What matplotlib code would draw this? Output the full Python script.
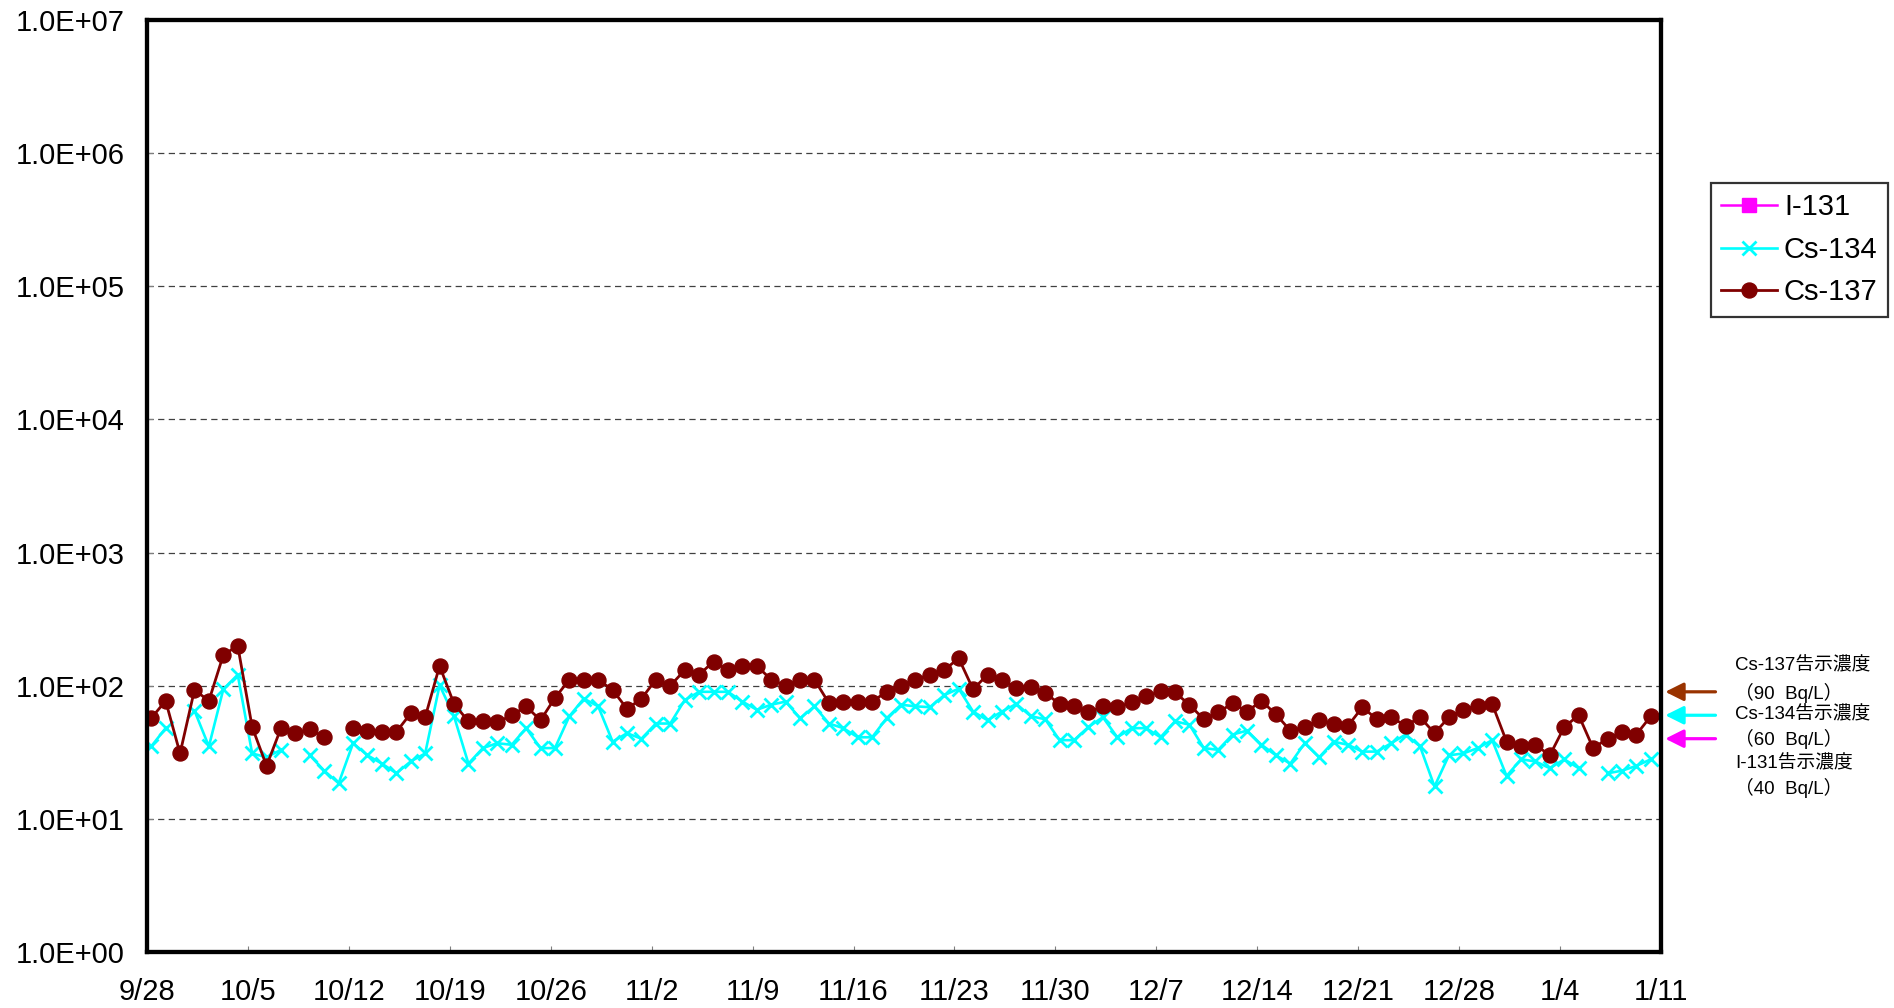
import numpy as np
import matplotlib
matplotlib.use('Agg')
import matplotlib.pyplot as plt
import matplotlib.dates as mdates
from matplotlib.ticker import FixedLocator, FixedFormatter, NullLocator
import pandas as pd

plt.rcParams['font.family'] = ['Liberation Sans', 'Noto Sans CJK JP']

nan = np.nan

# sampling days (daily, morning sample) 9/27 .. 1/10
first_sample = '2011-09-27 07:00'

cs137 = [85, 57, 77, 31,
         93, 77, 170, 200, 49, 25, 48, 44, 47, 41, nan, 48, 46, 45, 45, 62, 58, 141,
         73, 54, 54, 53, 60, 70, 55, 81, 111, 111, 111, 93, 67,
         80, 111, 100, 131, 121, 152, 131, 141, 141, 111, 100, 111, 111, 74, 76, 76, 76,
         90, 100, 111, 121, 131, 161, 94, 121, 111, 96, 97, 88, 73,
         70, 63, 70, 69, 75, 83, 91, 89, 72, 56, 63, 74, 64, 77, 61, 46, 49, 55, 52, 50,
         69, 56, 58, 50, 58, 44, 58, 66, 71, 73, 38,
         35, 36, 30, 49, 60, 34, 40, 45, 43, 59]

cs134 = [41, 35, 48, nan,
         65, 35, 94, 121, 31, 29, 33, nan, 30, 23, 18.5, 37, 30, 26, 22, 27, 31, 101,
         59, 26, 34, 37, 36, 48, 34, 34, 59, 80, 70, 38, 44,
         40, 52, 52, 78, 90, 90, 90, 76, 66, 72, 76, 57, 70, 52, 48, 41, 41,
         57, 72, 70, 69, 85, 95, 64, 55, 64, 73, 59, 56, 39,
         39, 49, 58, 41, 48, 48, 41, 54, 51, 34, 33, 43, 46, 36, 30, 26, 37, 29, 38, 36,
         32, 32, 37, 43, 35, 17.5, 30, 31, 34, 39, 21,
         28, 27, 24, 28, 24, nan, 22, 23, 25, 28]

i131 = []  # not detected, legend only

series_names = ['I-131', 'Cs-134', 'Cs-137']

x_start, x_end = '2011-09-28', '2012-01-11'
x_tick_labels = ['9/28', '10/5', '10/12', '10/19', '10/26', '11/2', '11/9', '11/16',
                 '11/23', '11/30', '12/7', '12/14', '12/21', '12/28', '1/4', '1/11']
y_ticks = [1e0, 1e1, 1e2, 1e3, 1e4, 1e5, 1e6, 1e7]
y_tick_labels = ['1.0E+00', '1.0E+01', '1.0E+02', '1.0E+03', '1.0E+04',
                 '1.0E+05', '1.0E+06', '1.0E+07']

limit_values = [90, 60, 40]
limit_colors = ['#993300', '#00ffff', '#ff00ff']
limit_texts = ['Cs-137告示濃度', '（90  Bq/L）', 'Cs-134告示濃度', '（60  Bq/L）',
               'I-131告示濃度', '（40  Bq/L）']

dates = pd.date_range(first_sample, periods=len(cs137), freq='D')
tick_dates = pd.date_range(x_start, x_end, freq='7D')

W, H = 1894, 1008
fig = plt.figure(figsize=(W / 100, H / 100), dpi=100)
ax = fig.add_axes([147 / W, 1 - 952 / H, (1661 - 147) / W, (952 - 20) / H])

ax.plot(dates[:0], i131, color='#ff00ff', lw=1.8, marker='s', ms=10.5, mfc='#ff00ff',
        mec='#ff00ff', label=series_names[0])
ax.plot(dates, cs134, color='#00ffff', lw=1.9, marker='x', ms=10, mew=2.0,
        label=series_names[1])
ax.plot(dates, cs137, color='#800000', lw=2.0, marker='o', ms=10.8, mfc='#800000',
        mec='#800000', label=series_names[2])

ax.set_yscale('log')
ax.set_ylim(1, 1e7)
ax.set_xlim(pd.Timestamp(x_start), pd.Timestamp(x_end))
ax.yaxis.set_major_locator(FixedLocator(y_ticks))
ax.yaxis.set_major_formatter(FixedFormatter(y_tick_labels))
ax.yaxis.set_minor_locator(NullLocator())
ax.xaxis.set_major_locator(FixedLocator(mdates.date2num(tick_dates)))
ax.xaxis.set_major_formatter(FixedFormatter(x_tick_labels))
ax.xaxis.set_minor_locator(NullLocator())

ax.yaxis.grid(True, linestyle=(0, (5, 3.5)), color='#404040', lw=0.9)
ax.set_axisbelow(True)
for s in ax.spines.values():
    s.set_linewidth(3.1)
    s.set_color('black')

ax.tick_params(axis='both', direction='in', length=4, width=0.8, color='#808080',
               labelsize=21)
ax.tick_params(axis='y', pad=16)
ax.tick_params(axis='x', pad=19)

leg = fig.legend(loc='upper left', bbox_to_anchor=(1711 / W, 1 - 183 / H),
                 borderaxespad=0, fontsize=21, frameon=True, fancybox=False,
                 handlelength=1.9, handletextpad=0.25, labelspacing=0.5,
                 borderpad=0.35)
leg.get_frame().set_edgecolor('black')
leg.get_frame().set_linewidth(1.6)

for val, col in zip(limit_values, limit_colors):
    ax.annotate('', xy=(1.0028, val), xytext=(1.036, val),
                xycoords=('axes fraction', 'data'), textcoords=('axes fraction', 'data'),
                arrowprops=dict(arrowstyle='-|>,head_length=0.5,head_width=0.25',
                                color=col, lw=2.3, mutation_scale=22,
                                shrinkA=0, shrinkB=0),
                annotation_clip=False)

text_y = [666, 693, 715, 739, 764, 788]
for t, yy in zip(limit_texts, text_y):
    fig.text(1735 / W, 1 - yy / H, t, fontsize=13.5, ha='left', va='center')

fig.savefig('out.png', dpi=100)
